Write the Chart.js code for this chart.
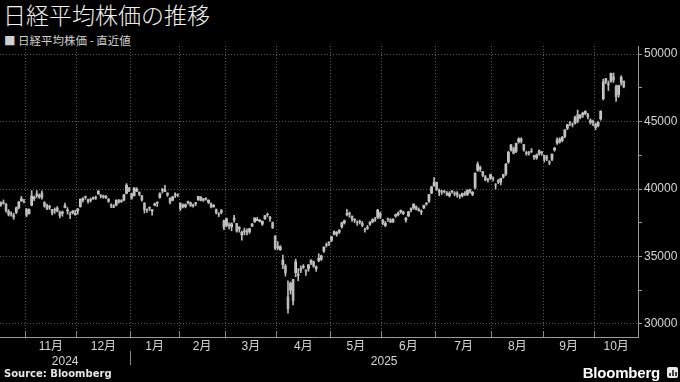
<!DOCTYPE html>
<html>
<head>
<meta charset="utf-8">
<script src="https://cdn.jsdelivr.net/npm/chart.js@4.4.1/dist/chart.umd.min.js"></script>
<style>
  body { margin: 0; background: #000; }
  #wrap { position: relative; width: 680px; height: 382px; overflow: hidden; background: #000; }
  #chart { position: absolute; left: 0; top: 0; }
  .title { position: absolute; left: 3px; top: 0px; font: 300 23px/29px "Noto Sans CJK JP", sans-serif; color: #f2f2f2; white-space: nowrap; }
  .sub { position: absolute; left: 4px; top: 33px; font: 11.5px/15px "Noto Sans CJK JP", sans-serif; color: #d0d0d0; white-space: nowrap; }
  .src { position: absolute; left: 4px; top: 367px; font: bold 10px/14px "DejaVu Sans", sans-serif; color: #e6e6e6; }
  .logo { position: absolute; right: 20px; top: 364px; font: bold 15px/17px "Liberation Sans", sans-serif; color: #fff; letter-spacing: -0.2px; }
  .icon { position: absolute; left: 667px; top: 367px; width: 11px; height: 11px; background: #e8e8e8; border-radius: 2px; }
  .icon i { position: absolute; bottom: 2px; width: 2px; background: #444; }
</style>
</head>
<body>
<div id="wrap">
  <div class="title">日経平均株価の推移</div>
  <div class="sub">■ 日経平均株価 - 直近値</div>
  <canvas id="chart" width="680" height="382"></canvas>
  <div class="src">Source: Bloomberg</div>
  <div class="logo">Bloomberg</div>
  <div class="icon"><i style="left:2px;height:3px"></i><i style="left:5px;height:6px"></i><i style="left:8px;height:4px"></i></div>
</div>
<script>
// trading days, Oct 2024 - Oct 2025
var months = ["2024-10", "2024-11", "2024-12", "2025-01", "2025-02", "2025-03", "2025-04",
  "2025-05", "2025-06", "2025-07", "2025-08", "2025-09", "2025-10"];
var tradingDays = [
  [18, 21, 22, 23, 24, 25, 28, 29, 30, 31],
  [1, 5, 6, 7, 8, 11, 12, 13, 14, 15, 18, 19, 20, 21, 22, 25, 26, 27, 28, 29],
  [2, 3, 4, 5, 6, 9, 10, 11, 12, 13, 16, 17, 18, 19, 20, 23, 24, 25, 26, 27, 30],
  [6, 7, 8, 9, 10, 14, 15, 16, 17, 20, 21, 22, 23, 24, 27, 28, 29, 30, 31],
  [3, 4, 5, 6, 7, 10, 12, 13, 14, 17, 18, 19, 20, 21, 25, 26, 27, 28],
  [3, 4, 5, 6, 7, 10, 11, 12, 13, 14, 17, 18, 19, 21, 24, 25, 26, 27, 28, 31],
  [1, 2, 3, 4, 7, 8, 9, 10, 11, 14, 15, 16, 17, 18, 21, 22, 23, 24, 25, 28, 30],
  [1, 2, 7, 8, 9, 12, 13, 14, 15, 16, 19, 20, 21, 22, 23, 26, 27, 28, 29, 30],
  [2, 3, 4, 5, 6, 9, 10, 11, 12, 13, 16, 17, 18, 19, 20, 23, 24, 25, 26, 27, 30],
  [1, 2, 3, 4, 7, 8, 9, 10, 11, 14, 15, 16, 17, 18, 22, 23, 24, 25, 28, 29, 30, 31],
  [1, 4, 5, 6, 7, 8, 12, 13, 14, 15, 18, 19, 20, 21, 22, 25, 26, 27, 28, 29],
  [1, 2, 3, 4, 5, 8, 9, 10, 11, 12, 16, 17, 18, 19, 22, 24, 25, 26, 29, 30],
  [1, 2, 3, 6, 7, 8, 9, 10, 14, 15, 16, 17]
];

var opens = [
  38850, 39000, 38870, 38350, 38180, 38050, 38270, 38630, 39130, 39080,
  38490, 38170, 38800, 39290, 39640, 39440, 39700, 39000, 38770, 38720, 38470, 38490, 38590, 38250, 38200, 38630, 38380, 38150, 38250, 38090,
  38370, 38700, 39180, 39460, 39200, 39240, 39300, 39340, 39640, 39570, 39410, 39490, 39240, 38790, 38650, 38800, 39150, 39080, 39190, 39670, 40080,
  39650, 39500, 39850, 39770, 39510, 38950, 38500, 38640, 38370, 38800, 38960, 39380, 39900, 39820, 39700, 39320, 39160, 39620, 39570,
  38940, 38700, 38700, 39000, 38990, 38750, 38920, 39200, 39400, 39290, 39250, 39000, 38900, 38680, 38480, 38130, 38450, 37660,
  37300, 37300, 37200, 37850, 37450, 37180, 36600, 36900, 36900, 36850, 37250, 37600, 37650, 37600, 37400, 37800, 38100, 37900, 37500, 36500,
  35750, 35500, 34400, 34300, 32000, 32500, 33300, 33800, 33700, 34100, 34200, 34000, 34100, 34500, 34600, 34100, 34700, 34800, 35400, 35900, 36000,
  36200, 36650, 36650, 36800, 37200, 37500, 38100, 38200, 38000, 37700, 37500, 37600, 37450, 37000, 37100, 37400, 37600, 37750, 37900, 38200,
  37700, 37300, 37800, 37700, 37600, 38000, 38100, 38300, 38300, 37700, 38000, 38450, 38600, 38700, 38500, 38300, 38600, 38900, 39100, 39700, 40250,
  40500, 39900, 39800, 39800, 39700, 39500, 39800, 39700, 39700, 39500, 39500, 39700, 39600, 39900, 39600, 40100, 41400, 41600, 41300, 40900, 40700, 40800,
  40800, 40300, 40600, 40500, 40900, 41100, 42000, 42900, 43000, 42800, 43500, 43700, 43300, 42700, 42700, 42800, 42500, 42300, 42600, 42700,
  42500, 42300, 42000, 42200, 42900, 43400, 43700, 43600, 43900, 44500, 44900, 44800, 44900, 45500, 45300, 45500, 45600, 45500, 45100, 45000,
  44800, 44700, 45200, 46700, 48200, 47800, 48000, 48300, 47600, 47000, 47900, 48000
];
var highs = [
  39050, 39190, 38930, 38470, 38310, 38200, 38670, 39080, 39450, 39230,
  38560, 38530, 39880, 39480, 39880, 39640, 39870, 39060, 38890, 38800, 38490, 38600, 38700, 38360, 38380, 38960, 38620, 38290, 38420, 38440,
  38550, 39260, 39360, 39480, 39260, 39330, 39410, 39480, 39880, 39570, 39550, 39520, 39300, 38900, 38850, 39210, 39230, 39210, 39600, 40400, 40100,
  39700, 40100, 40100, 39780, 39510, 38990, 38530, 38680, 38500, 38960, 39040, 39720, 40050, 40280, 39720, 39350, 39460, 39720, 39650,
  38980, 38900, 38900, 39100, 39030, 38890, 39020, 39460, 39430, 39310, 39370, 39200, 38980, 38850, 38520, 38250, 38450, 37690,
  37850, 37500, 37500, 38040, 37450, 37200, 36890, 37100, 37050, 37100, 37450, 37880, 37900, 37750, 37640, 38030, 38220, 37980, 37560, 36550,
  36100, 35800, 35100, 34400, 33200, 33100, 33300, 34800, 34100, 34300, 34400, 34000, 34400, 34750, 34650, 34300, 35200, 35100, 35700, 36000, 36100,
  36500, 36900, 36850, 37000, 37550, 37700, 38500, 38300, 38000, 37800, 37650, 37700, 37600, 37100, 37300, 37600, 37800, 37900, 38500, 38300,
  37750, 37600, 37850, 37800, 37800, 38150, 38300, 38450, 38350, 37900, 38350, 38600, 38900, 38750, 38600, 38450, 38800, 39000, 39600, 40200, 40850,
  40500, 40000, 39900, 39900, 39800, 39800, 39900, 39800, 39800, 39600, 39700, 39800, 39950, 40000, 39800, 41200, 42000, 41700, 41300, 41000, 40800, 41100,
  40900, 40400, 40700, 40800, 41100, 41900, 42800, 43300, 43100, 43400, 43800, 43800, 43300, 42800, 42800, 43000, 42500, 42600, 42900, 42800,
  42500, 42500, 42100, 42600, 43100, 43800, 43800, 43900, 44400, 44800, 45000, 44900, 45400, 45850, 45500, 45700, 45800, 45600, 45200, 45100,
  44900, 45000, 45800, 48150, 48200, 48000, 48600, 48600, 47700, 47700, 48400, 48000
];
var lows = [
  38700, 38880, 38280, 38000, 37980, 37750, 38180, 38530, 39070, 38960,
  37950, 38130, 38750, 39140, 39380, 39300, 39250, 38650, 38470, 38480, 38080, 38190, 38300, 37860, 37980, 38600, 38140, 37800, 38150, 38060,
  38140, 38650, 39050, 39250, 38950, 39030, 39220, 39220, 39600, 39340, 39310, 39280, 39010, 38620, 38620, 38750, 38950, 39000, 39110, 39640, 39800,
  39250, 39480, 39800, 39500, 39090, 38220, 38270, 38400, 38060, 38750, 38700, 39310, 39700, 39800, 39450, 38900, 39130, 39360, 39430,
  38400, 38600, 38600, 38880, 38700, 38650, 38780, 39150, 39120, 39080, 39170, 38920, 38590, 38650, 38150, 37950, 38160, 36980,
  37200, 37050, 36900, 37550, 36800, 36800, 36200, 36600, 36600, 36700, 37200, 37500, 37650, 37550, 37300, 37750, 37960, 37600, 37080, 35510,
  35500, 35450, 34100, 33540, 30792, 32200, 31400, 33500, 33200, 33800, 34100, 33600, 33900, 34400, 34200, 33900, 34600, 34700, 35300, 35700, 35800,
  36100, 36600, 36500, 36700, 37100, 37400, 38000, 37900, 37600, 37500, 37300, 37400, 37200, 36800, 37000, 37300, 37500, 37600, 37800, 37800,
  37350, 37200, 37600, 37500, 37500, 37900, 38000, 38200, 38100, 37550, 37950, 38300, 38500, 38450, 38350, 38100, 38550, 38800, 39000, 39650, 40200,
  39900, 39500, 39600, 39700, 39500, 39400, 39700, 39500, 39400, 39300, 39400, 39500, 39500, 39700, 39500, 40000, 41300, 41300, 40900, 40600, 40500, 40700,
  40600, 40000, 40400, 40300, 40800, 41000, 41900, 42800, 42600, 42700, 43400, 43400, 42800, 42500, 42500, 42700, 42200, 42200, 42500, 42500,
  42000, 42100, 41800, 42100, 42800, 43300, 43400, 43500, 43800, 44400, 44700, 44600, 44800, 44900, 45200, 45300, 45500, 45200, 44800, 44700,
  44400, 44600, 45100, 46600, 47800, 47300, 47900, 47900, 46500, 46800, 47700, 47500
];
var closes = [
  38981, 38954, 38411, 38104, 38143, 37913, 38605, 39027, 39277, 39081,
  38053, 38474, 39480, 39381, 39500, 39533, 39376, 38721, 38535, 38642, 38220, 38414, 38352, 38026, 38283, 38780, 38442, 38134, 38349, 38208,
  38513, 39248, 39276, 39395, 39091, 39160, 39367, 39372, 39849, 39470, 39457, 39364, 39081, 38813, 38701, 39161, 39036, 39130, 39568, 40281, 39894,
  39307, 40083, 39981, 39605, 39190, 38474, 38444, 38572, 38451, 38902, 39027, 39646, 39958, 39931, 39565, 39016, 39414, 39513, 39572,
  38520, 38798, 38831, 39066, 38787, 38801, 38963, 39461, 39149, 39174, 39270, 39164, 38678, 38776, 38237, 38142, 38256, 37155,
  37785, 37331, 37418, 37704, 36887, 37028, 36793, 36819, 36790, 37053, 37396, 37845, 37751, 37677, 37608, 38027, 38116, 37799, 37120, 35617,
  35624, 35725, 34735, 33780, 31136, 33012, 31714, 34609, 33586, 33982, 34267, 33920, 34377, 34730, 34280, 34221, 34868, 35039, 35705, 35839, 36045,
  36452, 36831, 36780, 36928, 37503, 37644, 38183, 38128, 37755, 37753, 37498, 37529, 37299, 36986, 37160, 37531, 37724, 37722, 38432, 37965,
  37470, 37446, 37747, 37554, 37741, 38088, 38211, 38421, 38173, 37834, 38311, 38536, 38885, 38488, 38403, 38354, 38790, 38942, 39584, 40151, 40487,
  39986, 39762, 39785, 39810, 39587, 39688, 39821, 39646, 39570, 39459, 39678, 39663, 39901, 39819, 39774, 41171, 41826, 41456, 40998, 40674, 40654, 41069,
  40799, 40290, 40549, 40794, 41059, 41820, 42718, 43274, 42649, 43378, 43714, 43546, 42888, 42610, 42633, 42807, 42394, 42520, 42828, 42718,
  42188, 42310, 41938, 42580, 43018, 43643, 43459, 43837, 44372, 44768, 44902, 44790, 45303, 45045, 45493, 45630, 45754, 45354, 44913, 44932,
  44550, 44936, 45769, 47944, 47950, 47734, 48580, 48088, 46847, 47672, 48277, 47582
];

var monthLabels = ["11月", "12月", "1月", "2月", "3月", "4月", "5月", "6月", "7月", "8月", "9月", "10月"];
var yearLabels = ["2024", "2025"];
var yTicks = [30000, 32500, 35000, 37500, 40000, 42500, 45000, 47500, 50000];

// build dates list + month boundaries
var dates = [];
months.forEach(function(m, k) {
  tradingDays[k].forEach(function(d) {
    dates.push(m + "-" + (d < 10 ? "0" + d : d));
  });
});

var xMin = -0.35, xMax = 248.55;
var bounds = [], yearSplit = null;
for (var i = 1; i < dates.length; i++) {
  if (dates[i].slice(0, 7) != dates[i - 1].slice(0, 7)) {
    bounds.push(i - 0.5);
    if (dates[i].slice(0, 4) != dates[i - 1].slice(0, 4)) yearSplit = i - 0.5;
  }
}
var monthMids = bounds.map(function(b, k) {
  var next = k + 1 < bounds.length ? bounds[k + 1] : xMax;
  return (b + next) / 2;
});
var yearMids = [(xMin + yearSplit) / 2, (yearSplit + xMax) / 2];

var wicks = dates.map(function(d, i) { return { x: i, y: [lows[i], highs[i]] }; });
var bodies = dates.map(function(d, i) { return { x: i, y: [opens[i], closes[i]] }; });

var tickFont = { family: "'Liberation Sans', 'Noto Sans CJK JP', sans-serif", size: 12 };

// small separator between year labels
var yearSep = {
  id: "yearSep",
  afterDraw: function(chart) {
    var x = Math.round(chart.scales.x.getPixelForValue(yearSplit)) + 0.5;
    var s = chart.scales.x3;
    var ctx = chart.ctx;
    ctx.save();
    ctx.strokeStyle = "#8a8a8a";
    ctx.lineWidth = 1;
    ctx.beginPath();
    ctx.moveTo(x, s.top - 1);
    ctx.lineTo(x, s.bottom - 1);
    ctx.stroke();
    ctx.restore();
  }
};

var ctx = document.getElementById("chart");
var myChart = new Chart(ctx, {
  type: "bar",
  data: {
    datasets: [
      {
        label: "wick",
        data: wicks,
        backgroundColor: "#bdbdbd",
        maxBarThickness: 1,
        barPercentage: 1,
        categoryPercentage: 1,
        grouped: false
      },
      {
        label: "body",
        data: bodies,
        backgroundColor: function(c) {
          var i = c.dataIndex;
          return closes[i] >= opens[i] ? "#e2e2e2" : "#ababab";
        },
        maxBarThickness: 2,
        barPercentage: 1,
        categoryPercentage: 1,
        grouped: false
      }
    ]
  },
  options: {
    responsive: false,
    animation: false,
    devicePixelRatio: 1,
    layout: { padding: { left: 0, right: 0, top: 46, bottom: 16 } },
    plugins: { legend: { display: false }, tooltip: { enabled: false } },
    scales: {
      x: {
        type: "linear",
        position: "bottom",
        offset: false,
        weight: 0,
        min: xMin,
        max: xMax,
        afterBuildTicks: function(scale) {
          scale.ticks = bounds.map(function(b) { return { value: b }; });
        },
        afterFit: function(scale) { scale.height = 1; },
        ticks: { display: false },
        grid: { color: "#5c5c5c", offset: false, drawTicks: true, tickLength: -6, tickColor: "#8c8c8c" },
        border: { display: true, color: "#9a9a9a", width: 1, dash: [1, 2] }
      },
      x2: {
        type: "linear",
        position: "bottom",
        offset: false,
        weight: 1,
        min: xMin,
        max: xMax,
        afterBuildTicks: function(scale) {
          scale.ticks = monthMids.map(function(b) { return { value: b }; });
        },
        afterFit: function(scale) { scale.height = 14; },
        ticks: {
          autoSkip: false,
          maxRotation: 0,
          padding: 1,
          color: "#d6d6d6",
          font: tickFont,
          callback: function(v, idx) { return monthLabels[idx]; }
        },
        grid: { display: false, drawTicks: false },
        border: { display: false }
      },
      x3: {
        type: "linear",
        position: "bottom",
        offset: false,
        weight: 2,
        min: xMin,
        max: xMax,
        afterBuildTicks: function(scale) {
          scale.ticks = yearMids.map(function(b) { return { value: b }; });
        },
        afterFit: function(scale) { scale.height = 14; },
        ticks: {
          autoSkip: false,
          maxRotation: 0,
          padding: 2,
          color: "#d6d6d6",
          font: tickFont,
          callback: function(v, idx) { return yearLabels[idx]; }
        },
        grid: { display: false, drawTicks: false },
        border: { display: false }
      },
      y: {
        type: "linear",
        position: "right",
        min: 29030,
        max: 50600,
        afterBuildTicks: function(scale) {
          scale.ticks = yTicks.map(function(v) { return { value: v }; });
        },
        afterFit: function(scale) { scale.width = 42; },
        ticks: {
          padding: 2,
          color: "#d6d6d6",
          font: tickFont,
          callback: function(v) { return v % 5000 == 0 ? String(v) : ""; }
        },
        grid: {
          color: function(c) {
            return c.tick && c.tick.value % 5000 == 0 ? "#5c5c5c" : "rgba(0,0,0,0)";
          },
          tickColor: "#9a9a9a",
          tickLength: 4
        },
        border: { display: true, color: "#9a9a9a", width: 1, dash: [1, 2] }
      }
    }
  },
  plugins: [yearSep]
});
</script>
</body>
</html>
